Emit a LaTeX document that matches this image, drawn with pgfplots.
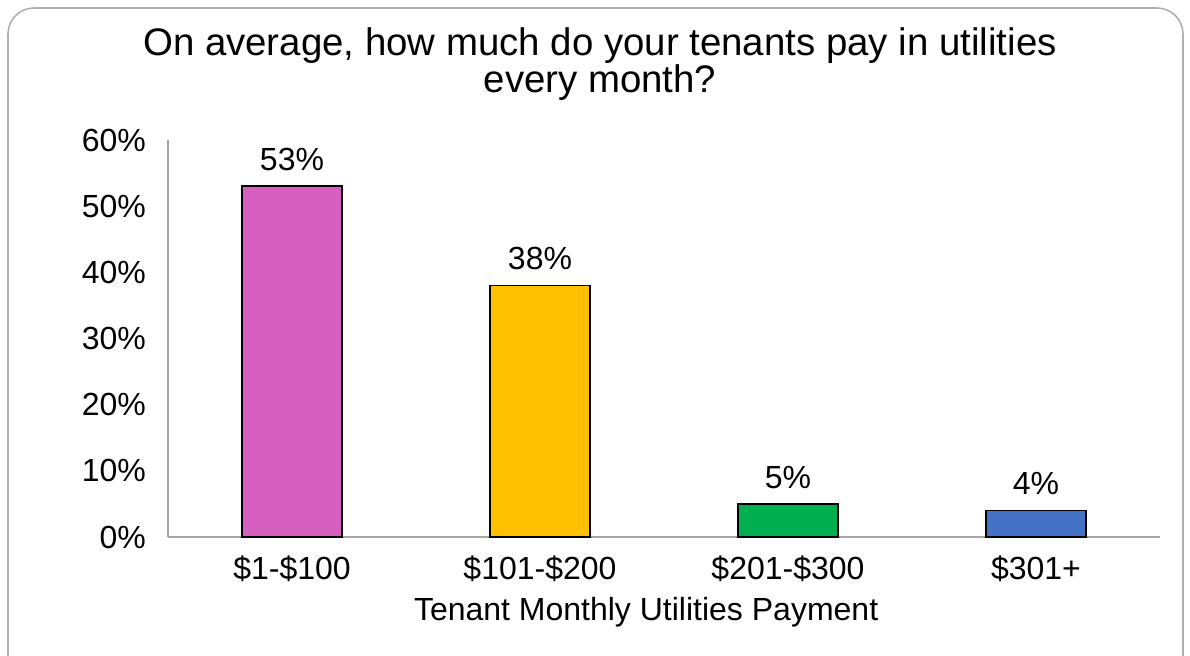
\documentclass[border=0pt]{standalone}
\usepackage{pgfplots}
\pgfplotsset{compat=1.18}
\usepackage{fontspec}
\setmainfont{Liberation Sans}
\definecolor{cpink}{HTML}{D75FC0}
\definecolor{cgold}{HTML}{FFC000}
\definecolor{cgreen}{HTML}{00B050}
\definecolor{cblue}{HTML}{4472C4}
\definecolor{axgray}{HTML}{A6A6A6}
\begin{document}
\begin{tikzpicture}
\useasboundingbox (0pt,0pt) rectangle (595pt,-328pt);
\draw[rounded corners=13pt, color=axgray!90, line width=0.8pt] (4pt,-4pt) rectangle (591.5pt,-360pt);
\node[align=center, font=\fontsize{19.2}{16}\selectfont] at (300pt,-32pt) {On average, how much do your tenants pay in utilities\\every month?};
\begin{axis}[
  at={(84pt,-268.5pt)}, anchor=south west,
  scale only axis, width=496pt, height=198.5pt,
  xmin=-0.5, xmax=3.5, ymin=0, ymax=60,
  axis lines*=left,
  axis line style={axgray, line width=0.8pt, -},
  /pgf/number format/assume math mode=true,
  xtick={0,1,2,3},
  xticklabels={\$1-\$100,\$101-\$200,\$201-\$300,\$301+},
  ytick={0,10,20,30,40,50,60},
  yticklabels={0\%,10\%,20\%,30\%,40\%,50\%,60\%},
  major tick length=0pt,
  tick label style={font=\fontsize{16}{16}\selectfont},
  xticklabel style={yshift=-6pt},
  yticklabel style={xshift=-7.5pt},
  xlabel={Tenant Monthly Utilities Payment},
  xlabel style={font=\fontsize{16}{16}\selectfont, at={(axis description cs:0.482,0)}, anchor=center, yshift=-37.5pt},
  ybar, bar width=50pt, bar shift=0pt,
  nodes near coords={\pgfmathprintnumber{\pgfplotspointmeta}\%},
  every node near coord/.append style={font=\fontsize{16}{16}\selectfont, black, yshift=4pt},
  clip=false,
]
\addplot[fill=cpink, draw=black, line width=0.9pt] coordinates {(0,53)};
\addplot[fill=cgold, draw=black, line width=0.9pt] coordinates {(1,38)};
\addplot[fill=cgreen, draw=black, line width=0.9pt] coordinates {(2,5)};
\addplot[fill=cblue, draw=black, line width=0.9pt] coordinates {(3,4)};
\end{axis}
\end{tikzpicture}
\end{document}
